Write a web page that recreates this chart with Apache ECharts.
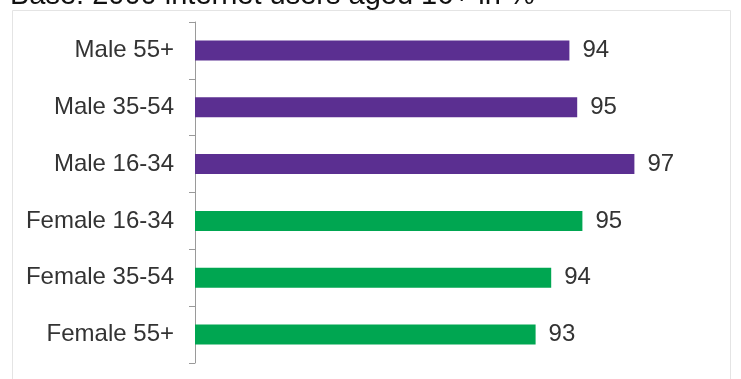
<!DOCTYPE html>
<html>
<head>
<meta charset="utf-8">
<script src="https://cdn.jsdelivr.net/npm/echarts@6/dist/echarts.min.js"></script>
<style>
html,body{margin:0;padding:0;background:#fff;}
#c{width:741px;height:379px;}
</style>
</head>
<body>
<div id="c"></div>
<script>
// top-to-bottom order
var categories = ['Male 55+', 'Male 35-54', 'Male 16-34', 'Female 16-34', 'Female 35-54', 'Female 55+'];
var groups = ['Male', 'Male', 'Male', 'Female', 'Female', 'Female'];
var values = [94.4, 94.7, 96.9, 94.9, 93.7, 93.1];
var headerText = 'Base: 2000 internet users aged 16+ in %';

var groupColors = { Male: '#5b2f91', Female: '#00a651' };

var chart = echarts.init(document.getElementById('c'), null, { renderer: 'canvas' });
chart.setOption({
  backgroundColor: '#ffffff',
  animation: false,
  graphic: [
    { type: 'rect', shape: { x: 12.5, y: 10.5, width: 718, height: 380 },
      style: { fill: 'none', stroke: '#e4e4e4', lineWidth: 1 }, z: -1 },
    { type: 'text', x: 10, y: 10,
      style: { text: headerText, fontFamily: 'Liberation Sans, Arial', fontSize: 29,
               fill: '#111', textVerticalAlign: 'bottom' } }
  ],
  grid: { left: 195, width: 520, top: 22, bottom: 16, containLabel: false },
  xAxis: {
    type: 'value', min: 80, max: 100, show: false
  },
  yAxis: {
    type: 'category', data: categories, inverse: true,
    axisLine: { show: true, lineStyle: { color: '#9a9a9a', width: 1 } },
    axisTick: { show: true, length: 6, lineStyle: { color: '#9a9a9a' } },
    axisLabel: { fontFamily: 'Liberation Sans, Arial', fontSize: 24, color: '#333', margin: 21 },
    splitLine: { show: false }
  },
  series: [{
    type: 'bar',
    barWidth: 20,
    data: values.map(function (v, i) {
      return { value: v, itemStyle: { color: groupColors[groups[i]] } };
    }),
    label: {
      show: true, position: 'right', distance: 13,
      fontFamily: 'Liberation Sans, Arial', fontSize: 24, color: '#333',
      formatter: function (p) { return Math.round(p.value); }
    }
  }]
});
</script>
</body>
</html>
